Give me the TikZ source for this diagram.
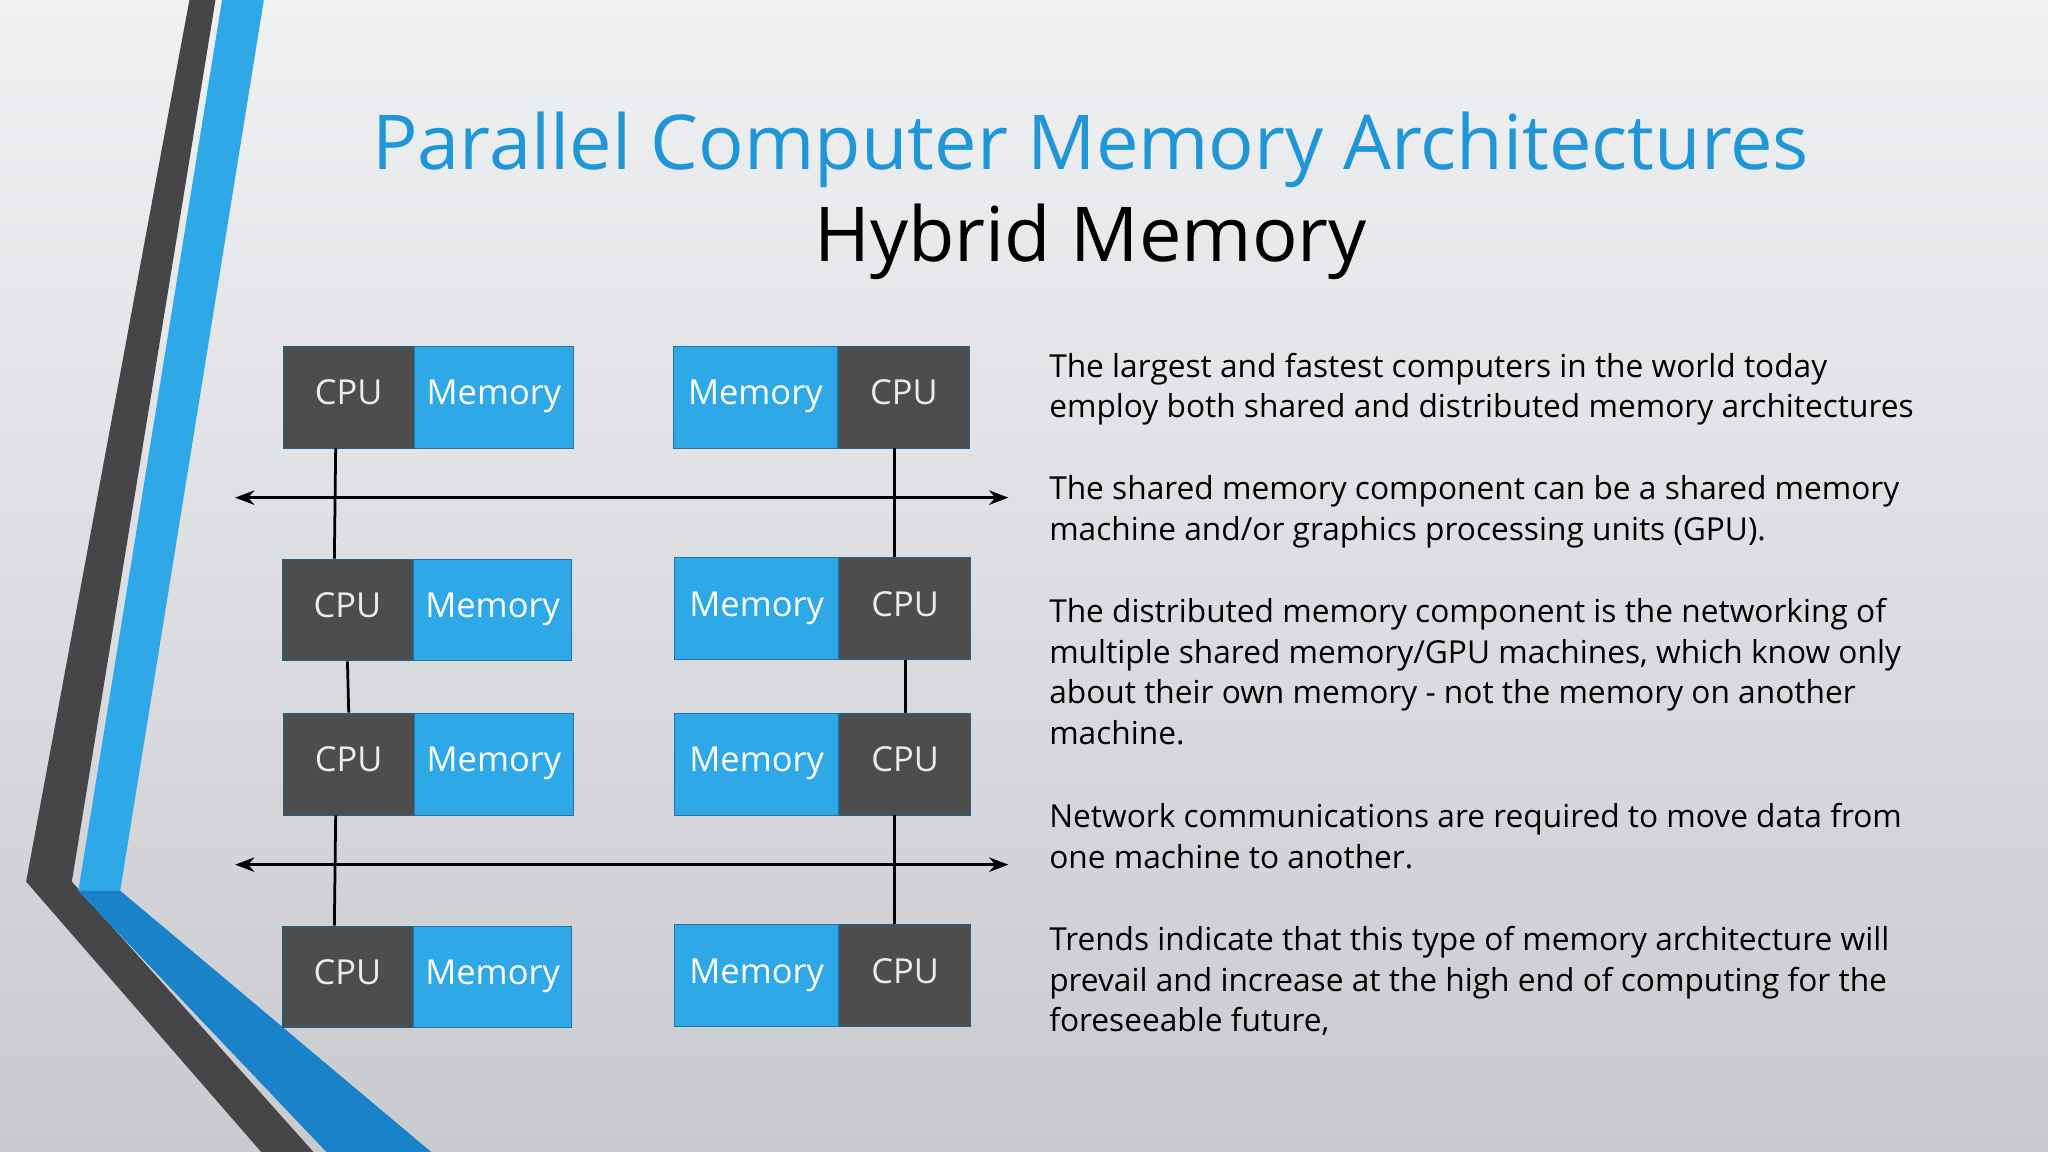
\documentclass[tikz,border=0pt]{standalone}
\usepackage{fontspec}
\setmainfont{Open Sans}
\usetikzlibrary{positioning, arrows.meta}
\definecolor{slideblue}{RGB}{46,168,230}
\definecolor{titleblue}{RGB}{30,150,215}
\definecolor{cpugray}{RGB}{77,77,77}
\definecolor{stripegray}{RGB}{70,70,72}
\definecolor{bandblue}{RGB}{26,130,200}
\definecolor{bgtop}{RGB}{240,241,243}
\definecolor{bgbot}{RGB}{200,202,206}
\begin{document}
\begin{tikzpicture}[
		x=0.02cm, y=-0.02cm,
		>={Stealth}, % Arrow style
		cpubox/.style={draw=slideblue!60!black, fill=cpugray, text=white!85!gray, minimum width=2cm, minimum height=1.56cm, inner sep=0pt, text height=1.6ex, text depth=0.4ex, font=\fontsize{15}{18}\selectfont},
		membox/.style={draw=slideblue!70!black, fill=slideblue, text=white, minimum width=2.42cm, minimum height=1.56cm, inner sep=0pt, text height=1.6ex, text depth=0.4ex, font=\fontsize{15}{18}\selectfont},
		rmembox/.style={membox, minimum width=2.52cm},
		para/.style={anchor=north west, align=left, inner sep=0pt, font=\fontsize{13.8}{17.6}\selectfont},
		link/.style={line width=1.2pt}
	]
	% Background
	\shade[top color=bgtop, bottom color=bgbot] (0,0) rectangle (1568,882);
	\useasboundingbox (0,0) rectangle (1568,882);
	% Left stripes
	\fill[stripegray] (145,0) -- (165,0) -- (55,675) -- (240,882) -- (200,882) -- (20,675) -- cycle;
	\fill[slideblue] (170,0) -- (202,0) -- (92,682) -- (330,882) -- (250,882) -- (60,682) -- cycle;
	\fill[bandblue] (60,682) -- (92,682) -- (330,882) -- (250,882) -- cycle;
	% Titles
	\node[text=titleblue, font=\fontsize{33}{40}\selectfont] (title) at (835,115) {Parallel Computer Memory Architectures};
	\node[font=\fontsize{33}{40}\selectfont] (subtitle) at (835,185) {Hybrid Memory};
	% Left column
	\node[cpubox] (lc1) at (267,304) {CPU};
	\node[membox, right=0pt of lc1] (lm1) {Memory};
	\node[cpubox] (lc2) at (266,467) {CPU};
	\node[membox, right=0pt of lc2] (lm2) {Memory};
	\node[cpubox] (lc3) at (267,585) {CPU};
	\node[membox, right=0pt of lc3] (lm3) {Memory};
	\node[cpubox] (lc4) at (266,748) {CPU};
	\node[membox, right=0pt of lc4] (lm4) {Memory};
	% Right column
	\node[cpubox] (rc1) at (692,304) {CPU};
	\node[rmembox, left=0pt of rc1] (rm1) {Memory};
	\node[cpubox] (rc2) at (693,466) {CPU};
	\node[rmembox, left=0pt of rc2] (rm2) {Memory};
	\node[cpubox] (rc3) at (693,585) {CPU};
	\node[rmembox, left=0pt of rc3] (rm3) {Memory};
	\node[cpubox] (rc4) at (693,747) {CPU};
	\node[rmembox, left=0pt of rc4] (rm4) {Memory};
	% Network buses
	\coordinate (busAw) at (180,381);
	\coordinate (busAe) at (772,381);
	\coordinate (busBw) at (180,662);
	\coordinate (busBe) at (772,662);
	\draw[link, <->] (busAw) -- (busAe);
	\draw[link, <->] (busBw) -- (busBe);
	% Links between nodes
	\draw[link] ([xshift=-0.2cm]lc1.south) -- ([xshift=-0.2cm]lc2.north);
	\draw[link] (lc2.south) -- (lc3.north);
	\draw[link] ([xshift=-0.2cm]lc3.south) -- ([xshift=-0.2cm]lc4.north);
	\draw[link] ([xshift=-0.14cm]rc1.south) -- ([xshift=-0.16cm]rc2.north);
	\draw[link] (rc2.south) -- (rc3.north);
	\draw[link] ([xshift=-0.16cm]rc3.south) -- ([xshift=-0.16cm]rc4.north);
	% Description
	\node[para] (p1) at (803,270) {The largest and fastest computers in the world today\\employ both shared and distributed memory architectures};
	\node[para] (p2) at (803,364) {The shared memory component can be a shared memory\\machine and/or graphics processing units (GPU).};
	\node[para] (p3) at (803,458) {The distributed memory component is the networking of\\multiple shared memory/GPU machines, which know only\\about their own memory - not the memory on another\\machine.};
	\node[para] (p4) at (803,615) {Network communications are required to move data from\\one machine to another.};
	\node[para] (p5) at (803,709) {Trends indicate that this type of memory architecture will\\prevail and increase at the high end of computing for the\\foreseeable future,};
\end{tikzpicture}
\end{document}
